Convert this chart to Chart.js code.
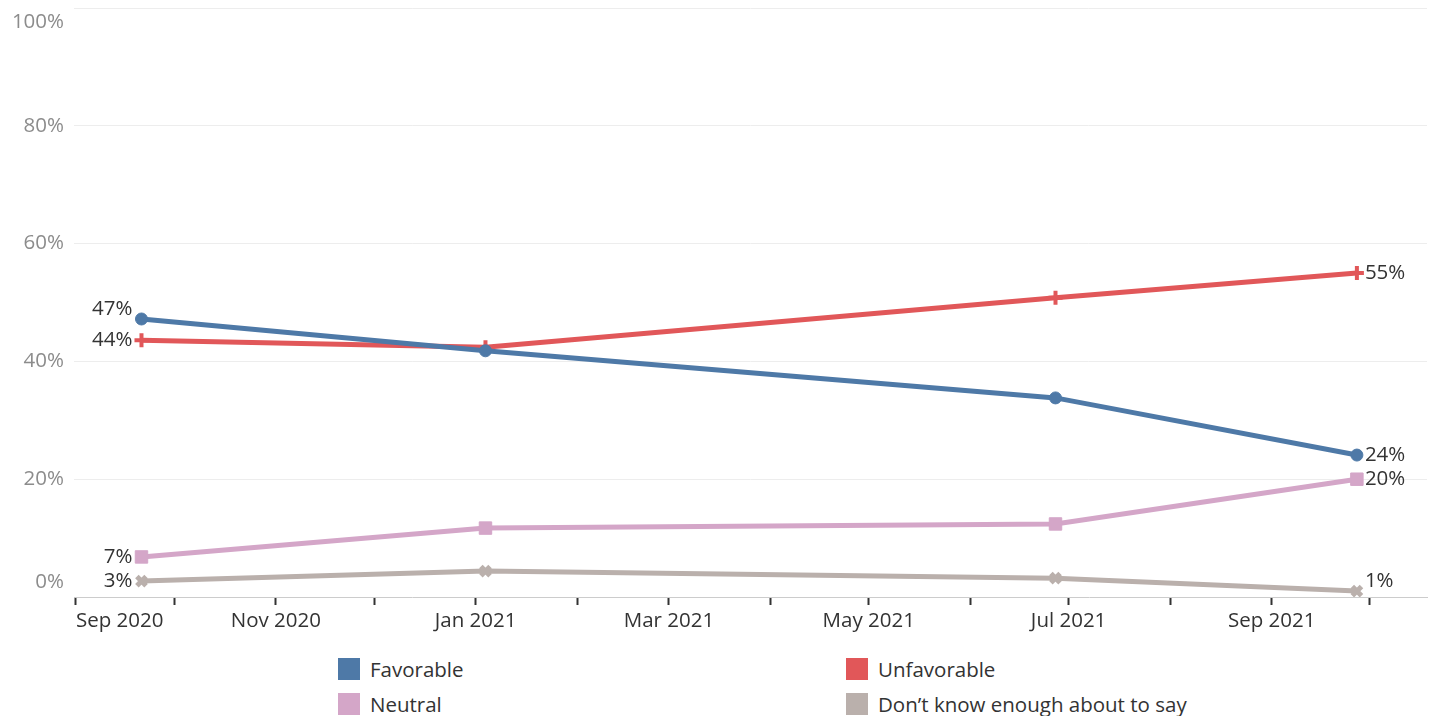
<!DOCTYPE html>
<html>
<head>
<meta charset="utf-8">
<script src="https://cdn.jsdelivr.net/npm/chart.js@4/dist/chart.umd.min.js"></script>
<style>
  html, body { margin: 0; padding: 0; background: #fff; }
  #wrap { position: relative; width: 1434px; height: 716px; overflow: hidden; }
  #chartBox { position: absolute; left: 0; top: 0; width: 1434px; height: 645px; }
  .legend { position: absolute; font-family: "Open Sans", sans-serif; font-size: 20.5px; color: #333; }
  .legend .item { position: absolute; white-space: nowrap; height: 24px; line-height: 24px; }
  .legend .sw { position: absolute; left: 0; top: 1px; width: 22px; height: 22px; }
  .legend .tx { position: absolute; left: 32px; top: 0; }
</style>
</head>
<body>
<div id="wrap">
  <div id="chartBox"><canvas id="c"></canvas></div>
  <div class="legend" id="legend"></div>
</div>
<script>
// survey dates and values (%)
const surveyDates = ['2020-09-21', '2021-01-04', '2021-06-27', '2021-09-27'];
const favorable   = [47.2, 41.8, 33.8, 24.1];
const unfavorable = [43.6, 42.4, 50.8, 55.0];
const neutral     = [6.8, 11.7, 12.4, 20.0];
const dontKnow    = [2.7, 4.4, 3.2, 1.0];

const seriesNames = ['Favorable', 'Unfavorable', 'Neutral', 'Don\u2019t know enough about to say'];

// x axis ticks: one per month, label every other month
const xTickDates  = ['2020-09-01','2020-10-01','2020-11-01','2020-12-01','2021-01-01','2021-02-01',
                     '2021-03-01','2021-04-01','2021-05-01','2021-06-01','2021-07-01','2021-08-01',
                     '2021-09-01','2021-10-01'];
const xTickLabels = ['Sep 2020','','Nov 2020','','Jan 2021','','Mar 2021','','May 2021','',
                     'Jul 2021','','Sep 2021',''];
const yTicks = [0, 20, 40, 60, 80, 100];
const yTickLabels = ['0%', '20%', '40%', '60%', '80%', '100%'];

const FONT = '"Open Sans", sans-serif';
const FS = 20.5;
const DAY = 86400000;
const toMs = s => Date.parse(s + 'T00:00:00Z');
const xMin = toMs('2020-09-01') - 0.6 * DAY;
const xMax = toMs('2021-10-01') + 17.4 * DAY;

const colors = ['#4e79a7', '#e15759', '#d4a6c8', '#bab0ac'];
const styles = [
  { pointStyle: 'circle',   radius: 6,   border: 1 },
  { pointStyle: 'cross',    radius: 7,   border: 4 },
  { pointStyle: 'rect',     radius: 8.8, border: 1 },
  { pointStyle: 'crossRot', radius: 6.5, border: 5 }
];
// vertical nudges of end labels [first, last]
const labelShift = [[-10, 0], [0, 0], [0, 0], [0, -10]];

const allValues = [favorable, unfavorable, neutral, dontKnow];

const datasets = allValues.map((vals, i) => ({
  label: seriesNames[i],
  data: vals.map((v, j) => ({ x: toMs(surveyDates[j]), y: v })),
  borderColor: colors[i],
  backgroundColor: colors[i],
  borderWidth: 5,
  pointStyle: styles[i].pointStyle,
  pointRadius: styles[i].radius,
  pointBorderWidth: styles[i].border,
  pointBorderColor: colors[i],
  pointBackgroundColor: colors[i],
  tension: 0
}));

// y tick labels, clamped inside the plot like the original
const yLabelPlugin = {
  id: 'yLabels',
  afterDraw(chart) {
    const ctx = chart.ctx;
    const y = chart.scales.y;
    const area = chart.chartArea;
    ctx.save();
    ctx.font = FS + 'px ' + FONT;
    ctx.fillStyle = '#8c8c8c';
    ctx.textAlign = 'right';
    ctx.textBaseline = 'middle';
    yTicks.forEach((v, i) => {
      let py = y.getPixelForValue(v);
      py = Math.max(area.top + 14, Math.min(area.bottom - 15, py));
      ctx.fillText(yTickLabels[i], 64, py);
    });
    ctx.restore();
  }
};

// end-point value labels
const endLabelPlugin = {
  id: 'endLabels',
  afterDatasetsDraw(chart) {
    const ctx = chart.ctx;
    ctx.save();
    ctx.font = FS + 'px ' + FONT;
    ctx.fillStyle = '#333';
    ctx.textBaseline = 'middle';
    chart.data.datasets.forEach((ds, i) => {
      const meta = chart.getDatasetMeta(i);
      const n = meta.data.length;
      const first = meta.data[0], last = meta.data[n - 1];
      ctx.textAlign = 'right';
      ctx.fillText(Math.round(ds.data[0].y) + '%', first.x - 9, first.y + labelShift[i][0]);
      ctx.textAlign = 'left';
      ctx.fillText(Math.round(ds.data[n - 1].y) + '%', last.x + 8, last.y + labelShift[i][1]);
    });
    ctx.restore();
  }
};

new Chart(document.getElementById('c'), {
  type: 'line',
  data: { datasets: datasets },
  options: {
    responsive: true,
    maintainAspectRatio: false,
    animation: false,
    layout: { autoPadding: false, padding: { top: 8, right: 7, left: 0, bottom: 0 } },
    plugins: { legend: { display: false }, tooltip: { enabled: false } },
    scales: {
      x: {
        type: 'linear',
        min: xMin,
        max: xMax,
        afterBuildTicks(scale) {
          scale.ticks = xTickDates.map(d => ({ value: toMs(d) }));
        },
        afterFit(scale) { scale.height = 48; },
        border: { display: true, color: '#cccccc', dash: [3, 3], width: 1 },
        grid: {
          drawOnChartArea: false,
          drawTicks: true,
          tickLength: 8,
          tickColor: '#333',
          tickWidth: 2
        },
        ticks: {
          autoSkip: false,
          maxRotation: 0,
          align: 'inner',
          padding: 4,
          color: '#333',
          font: { family: FONT, size: FS },
          callback(value) {
            const k = xTickDates.findIndex(d => toMs(d) === value);
            return k >= 0 ? xTickLabels[k] : '';
          }
        }
      },
      y: {
        min: 0,
        max: 100,
        afterBuildTicks(scale) {
          scale.ticks = yTicks.map(v => ({ value: v }));
        },
        afterFit(scale) { scale.width = 74; },
        border: { display: false },
        grid: {
          drawTicks: false,
          color: ctx => ctx.tick && ctx.tick.value === 0 ? 'rgba(0,0,0,0)' : '#ededed',
          lineWidth: 1
        },
        ticks: { display: false }
      }
    }
  },
  plugins: [yLabelPlugin, endLabelPlugin]
});

// legend, two columns
const legendPos = [[338, 658], [846, 658], [338, 693], [846, 693]];
const legendEl = document.getElementById('legend');
seriesNames.forEach((name, i) => {
  const item = document.createElement('div');
  item.className = 'item';
  item.style.left = legendPos[i][0] + 'px';
  item.style.top = (legendPos[i][1] - 1) + 'px';
  item.innerHTML = '<span class="sw" style="background:' + colors[i] + '"></span><span class="tx">' + name + '</span>';
  legendEl.appendChild(item);
});
</script>
</body>
</html>
